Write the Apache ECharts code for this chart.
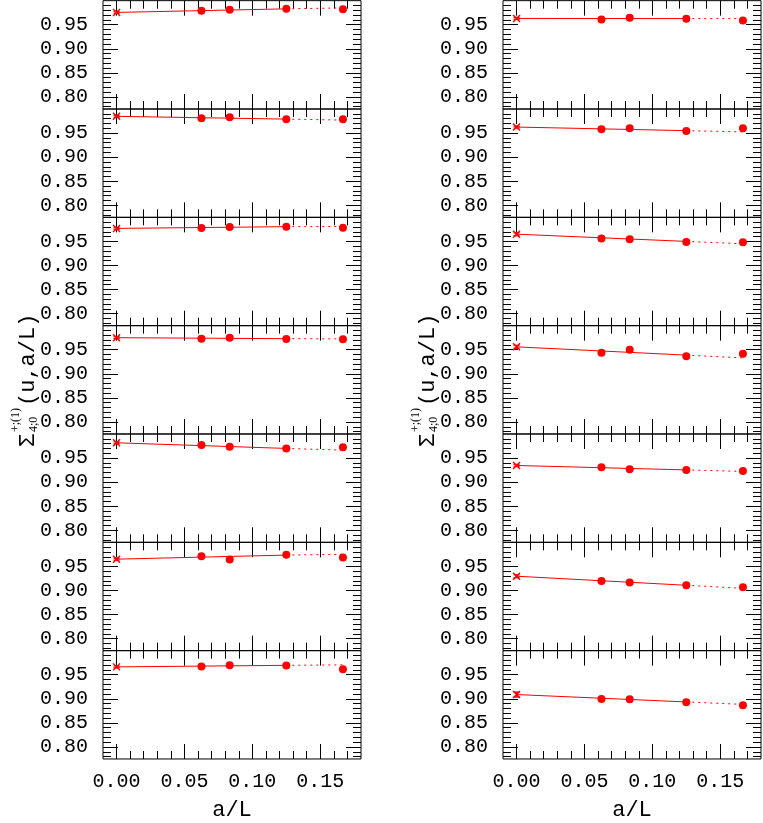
<!DOCTYPE html>
<html>
<head>
<meta charset="utf-8">
<script src="https://cdn.jsdelivr.net/npm/echarts@6/dist/echarts.min.js"></script>
<style>
  html, body { margin: 0; padding: 0; background: #fff; }
  #chart { width: 763px; height: 823px; }
</style>
</head>
<body>
<div id="chart"></div>
<script>
// a/L values of the lattices and x positions of the fit line (0 -> 1/8 solid, 1/8 -> 1/6 dotted)
const aOverL = [0.0625, 0.0833, 0.125, 0.1667];
const fitX = [0, 0.125, 0.1667];

// left column, panels top to bottom
const leftPoints = [
  [0.979, 0.981, 0.983, 0.982],
  [0.9806, 0.9827, 0.9785, 0.9785],
  [0.978, 0.980, 0.9806, 0.9785],
  [0.9729, 0.975, 0.9723, 0.9717],
  [0.9769, 0.9733, 0.970, 0.9727],
  [0.9713, 0.9644, 0.974, 0.9685],
  [0.967, 0.9698, 0.969, 0.9615]
];
const leftExtrap = [0.9756, 0.9848, 0.977, 0.975, 0.9817, 0.965, 0.9663];
const leftErr = [0.002, 0.002, 0.002, 0.002, 0.002, 0.002, 0.002];
const leftFit = [
  [0.9756, 0.983, 0.985],
  [0.9848, 0.979, 0.977],
  [0.977, 0.9806, 0.981],
  [0.975, 0.973, 0.9725],
  [0.9817, 0.970, 0.9665],
  [0.965, 0.9735, 0.975],
  [0.9663, 0.9695, 0.9705]
];

// right column, panels top to bottom
const rightPoints = [
  [0.961, 0.9646, 0.9625, 0.959],
  [0.9577, 0.9598, 0.9542, 0.9598],
  [0.956, 0.9546, 0.949, 0.9483],
  [0.9435, 0.9498, 0.9367, 0.9415],
  [0.931, 0.9269, 0.9254, 0.9233],
  [0.9198, 0.9165, 0.9108, 0.9067],
  [0.8996, 0.899, 0.8927, 0.8865]
];
const rightExtrap = [0.9631, 0.9625, 0.965, 0.956, 0.9346, 0.9296, 0.9088];
const rightErr = [0.002, 0.002, 0.003, 0.003, 0.002, 0.003, 0.005];
const rightFit = [
  [0.9631, 0.9628, 0.9627],
  [0.9625, 0.955, 0.9525],
  [0.965, 0.950, 0.945],
  [0.956, 0.9388, 0.933],
  [0.9346, 0.9254, 0.9223],
  [0.9296, 0.9108, 0.9045],
  [0.9088, 0.8935, 0.8884]
];

// ticks
const xMajorTicks = [0.00, 0.05, 0.10, 0.15];
const xMinorTicks = [0.01, 0.02, 0.03, 0.04, 0.06, 0.07, 0.08, 0.09, 0.11, 0.12, 0.13, 0.14, 0.16, 0.17];
const yMajorTicks = [0.80, 0.85, 0.90, 0.95];
const yMinorTicks = [0.78, 0.79, 0.81, 0.82, 0.83, 0.84, 0.86, 0.87, 0.88, 0.89,
  0.91, 0.92, 0.93, 0.94, 0.96, 0.97, 0.98, 0.99];

const FONT = 'Liberation Mono';
const RED = '#ff0000';
const nPanels = 7;
const panelH = 108.33;

const grids = [], xAxes = [], yAxes = [], series = [];

function tickAxis(gi, pos, ticks, len, extra) {
  return Object.assign({
    gridIndex: gi,
    type: 'value',
    position: pos,
    axisLine: { show: false, onZero: false },
    axisTick: { show: true, inside: true, length: len, customValues: ticks,
      lineStyle: { color: '#000', width: 1 } },
    axisLabel: { show: false },
    splitLine: { show: false }
  }, extra);
}

function addPanel(left, k, pts, ext, err, fit, isBottom) {
  const gi = grids.length;
  grids.push({ left: left, top: 0.67 + panelH * k, width: 258, height: panelH,
    show: true, borderColor: '#000', borderWidth: 1, backgroundColor: 'transparent' });

  const xr = { min: -0.01, max: 0.18 };
  const xi = xAxes.length;
  const xMain = tickAxis(gi, 'bottom', xMajorTicks, 15, xr);
  if (isBottom) {
    xMain.axisLabel = { show: true, customValues: xMajorTicks, margin: 13,
      fontFamily: FONT, fontSize: 20, color: '#000',
      formatter: v => v.toFixed(2) };
    xMain.name = 'a/L';
    xMain.nameLocation = 'middle';
    xMain.nameGap = 40;
    xMain.nameTextStyle = { fontFamily: FONT, fontSize: 22, color: '#000' };
  }
  xAxes.push(xMain,
    tickAxis(gi, 'bottom', xMinorTicks, 8, xr),
    tickAxis(gi, 'top', xMajorTicks, 15, xr),
    tickAxis(gi, 'top', xMinorTicks, 8, xr));

  const yr = { min: 0.775, max: 1.0 };
  const yi = yAxes.length;
  const yMain = tickAxis(gi, 'left', yMajorTicks, 15, yr);
  yMain.axisLabel = { show: true, customValues: yMajorTicks, margin: 15,
    fontFamily: FONT, fontSize: 20, color: '#000',
    formatter: v => v.toFixed(2) };
  yAxes.push(yMain,
    tickAxis(gi, 'left', yMinorTicks, 8, yr),
    tickAxis(gi, 'right', yMajorTicks, 15, yr),
    tickAxis(gi, 'right', yMinorTicks, 8, yr));

  series.push({
    type: 'line', xAxisIndex: xi, yAxisIndex: yi, silent: true,
    showSymbol: false, symbol: 'none',
    lineStyle: { color: RED, width: 1 },
    data: [[fitX[0], fit[0]], [fitX[1], fit[1]]]
  }, {
    type: 'line', xAxisIndex: xi, yAxisIndex: yi, silent: true,
    showSymbol: false, symbol: 'none',
    lineStyle: { color: RED, width: 1, type: [2, 4] },
    data: [[fitX[1], fit[1]], [fitX[2], fit[2]]]
  }, {
    type: 'scatter', xAxisIndex: xi, yAxisIndex: yi, silent: true,
    symbol: 'circle', symbolSize: 8,
    itemStyle: { color: RED, opacity: 1 },
    data: aOverL.map((x, i) => [x, pts[i]])
  }, {
    type: 'custom', xAxisIndex: xi, yAxisIndex: yi, silent: true,
    data: [[0, ext, err]],
    renderItem: function (params, api) {
      const x = api.value(0), y = api.value(1), e = api.value(2);
      const c = api.coord([x, y]);
      const hi = api.coord([x, y + e]);
      const lo = api.coord([x, y - e]);
      const st = { stroke: RED, lineWidth: 1.4 };
      const s = 3.5;
      return {
        type: 'group',
        children: [
          { type: 'line', shape: { x1: c[0], y1: lo[1], x2: c[0], y2: hi[1] }, style: st },
          { type: 'line', shape: { x1: c[0] - 3, y1: lo[1], x2: c[0] + 3, y2: lo[1] }, style: st },
          { type: 'line', shape: { x1: c[0] - 3, y1: hi[1], x2: c[0] + 3, y2: hi[1] }, style: st },
          { type: 'line', shape: { x1: c[0] - s, y1: c[1] - s, x2: c[0] + s, y2: c[1] + s }, style: st },
          { type: 'line', shape: { x1: c[0] - s, y1: c[1] + s, x2: c[0] + s, y2: c[1] - s }, style: st }
        ]
      };
    }
  });
}

for (let k = 0; k < nPanels; k++) {
  addPanel(103, k, leftPoints[k], leftExtrap[k], leftErr[k], leftFit[k], k === nPanels - 1);
  addPanel(503, k, rightPoints[k], rightExtrap[k], rightErr[k], rightFit[k], k === nPanels - 1);
}

// rotated y label: Σ^{+;(1)}_{4;0}(u,a/L)
function yName(cx, by) {
  const base = { fill: '#000', verticalAlign: 'middle', align: 'left' };
  return {
    type: 'group', x: cx, y: by, rotation: Math.PI / 2, silent: true,
    children: [
      { type: 'text', x: 0, y: 0, style: Object.assign({ text: 'Σ', font: '22px "' + FONT + '"' }, base) },
      { type: 'text', x: 15, y: -12, style: Object.assign({ text: '+;(1)', font: '12px "Liberation Serif"' }, base) },
      { type: 'text', x: 15, y: 6, style: Object.assign({ text: '4;0', font: '12px "Liberation Serif"' }, base) },
      { type: 'text', x: 41, y: 0, style: Object.assign({ text: '(u,a/L)', font: '22px "' + FONT + '"' }, base) }
    ]
  };
}

const chart = echarts.init(document.getElementById('chart'), null, { renderer: 'canvas' });
chart.setOption({
  animation: false,
  backgroundColor: '#fff',
  grid: grids,
  xAxis: xAxes,
  yAxis: yAxes,
  series: series,
  graphic: [yName(28, 447), yName(428, 447)]
});
</script>
</body>
</html>
